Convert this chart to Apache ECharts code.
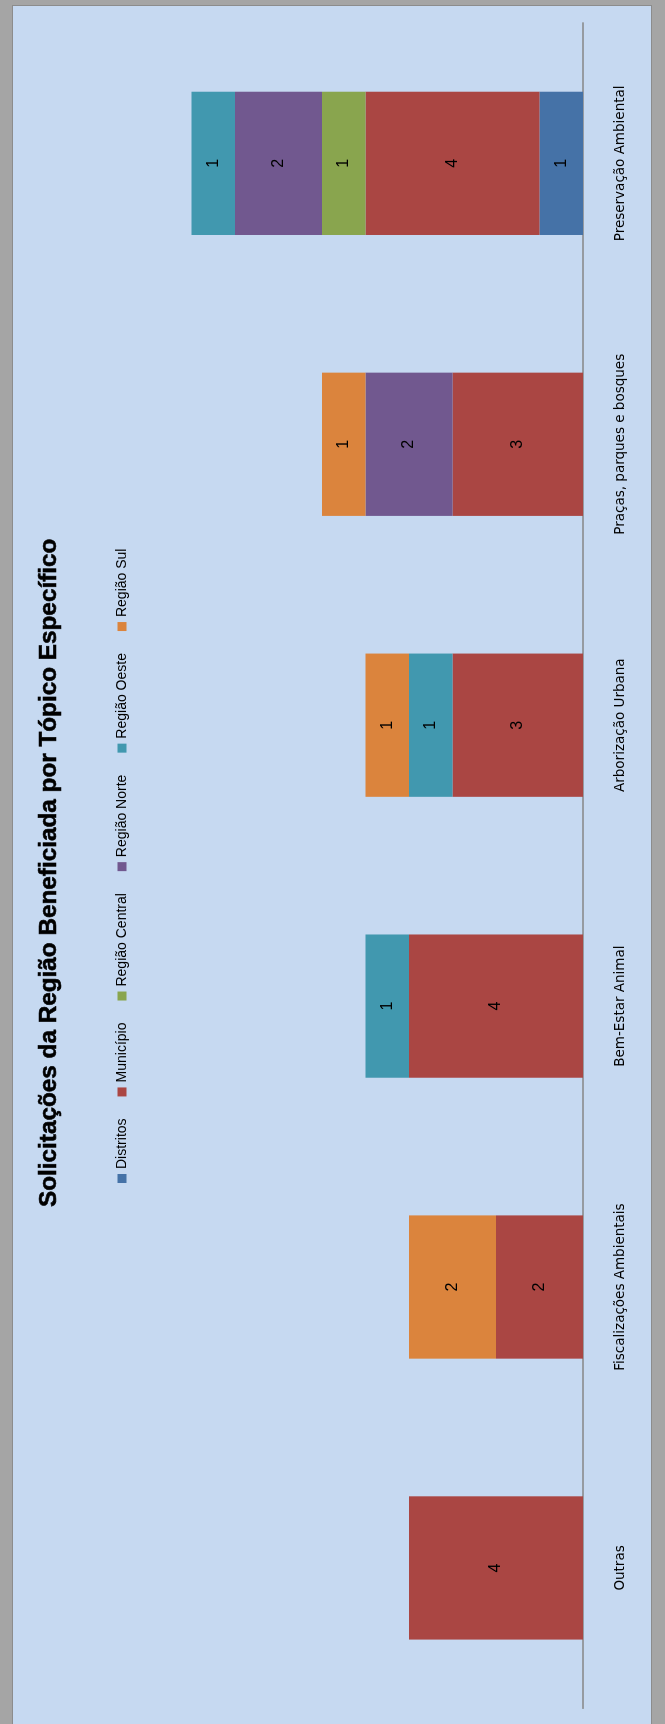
<!DOCTYPE html>
<html>
<head>
<meta charset="utf-8">
<script src="https://cdn.jsdelivr.net/npm/echarts@6/dist/echarts.min.js"></script>
<style>
  html, body { margin: 0; padding: 0; background: #a5a5a5; overflow: hidden; }
  #wrap {
    position: absolute; left: 0; top: 0;
    width: 1724px; height: 665px;
    transform-origin: 0 0;
    transform: translateY(1724px) rotate(-90deg);
    background: #a5a5a5;
  }
  #panel {
    position: absolute; left: 0; top: 12px;
    width: 1719px; height: 640px;
    box-sizing: border-box;
    background: #c6d9f1;
    border: 1px solid #8c8c8c;
    border-left: none;
  }
  #chart { position: absolute; left: 0; top: 0; width: 1724px; height: 665px; }
</style>
</head>
<body>
<div id="wrap"><div id="panel"></div><div id="chart"></div></div>
<script>
const titleText = 'Solicitações da Região Beneficiada por Tópico Específico';
const categories = ['Outras', 'Fiscalizações Ambientais', 'Bem-Estar Animal', 'Arborização Urbana', 'Praças, parques e bosques', 'Preservação Ambiental'];
const seriesNames = ['Distritos', 'Município', 'Região Central', 'Região Norte', 'Região Oeste', 'Região Sul'];
const distritos     = [null, null, null, null, null, 1];
const municipio     = [4, 2, 4, 3, 3, 4];
const regiaoCentral = [null, null, null, null, null, 1];
const regiaoNorte   = [null, null, null, null, 2, 2];
const regiaoOeste   = [null, null, 1, 1, null, 1];
const regiaoSul     = [null, 2, null, 1, 1, null];
const seriesValues = [distritos, municipio, regiaoCentral, regiaoNorte, regiaoOeste, regiaoSul];
const colors = ['#4572a7', '#aa4643', '#89a54e', '#71588f', '#4198af', '#db843d'];

const chart = echarts.init(document.getElementById('chart'), null, { renderer: 'canvas' });
chart.setOption({
  backgroundColor: 'transparent',
  animation: false,
  color: colors,
  title: {
    text: titleText,
    left: 517, top: 37, padding: 0,
    textStyle: { fontFamily: 'Liberation Sans', fontWeight: 'bold', fontSize: 24.3, color: '#000',
                 textBorderColor: '#000', textBorderWidth: 0.6 }
  },
  legend: {
    data: seriesNames,
    left: 541, top: 115, padding: 0,
    icon: 'rect', itemWidth: 9, itemHeight: 9, itemGap: 22,
    textStyle: { fontFamily: 'Liberation Sans', fontSize: 14, color: '#000' }
  },
  grid: { left: 15.6, right: 22.9, top: 148, bottom: 82, containLabel: false },
  xAxis: {
    type: 'category',
    data: categories,
    axisLine: { lineStyle: { color: '#868686', width: 1.5 } },
    axisTick: { show: false },
    axisLabel: { interval: 0, margin: 30, fontFamily: 'DejaVu Sans', fontSize: 13.5, color: '#000' }
  },
  yAxis: { type: 'value', min: 0, max: 10, show: false, splitLine: { show: false } },
  series: seriesNames.map((name, i) => ({
    name: name,
    type: 'bar',
    stack: 'total',
    barCategoryGap: '49%',
    data: seriesValues[i],
    itemStyle: { color: colors[i] },
    label: { show: true, position: 'inside', color: '#000', fontFamily: 'Liberation Sans', fontSize: 16 }
  }))
});
</script>
</body>
</html>
